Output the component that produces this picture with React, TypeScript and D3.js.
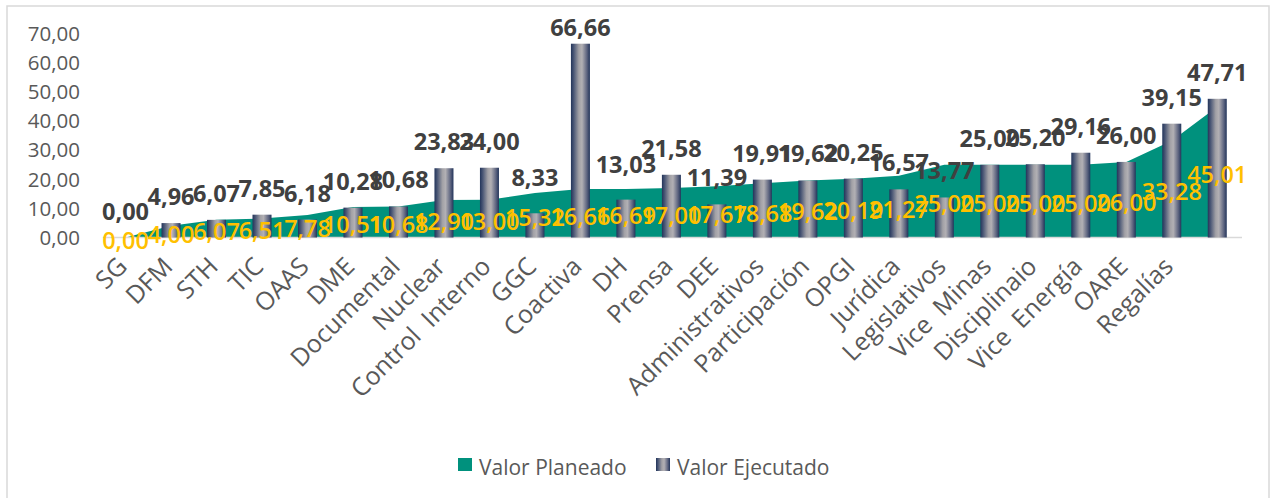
import React from "react";
import * as d3 from "d3";

const categories = ["SG", "DFM", "STH", "TIC", "OAAS", "DME", "Documental", "Nuclear", "Control  Interno", "GGC", "Coactiva", "DH", "Prensa", "DEE", "Administrativos", "Participación", "OPGI", "Jurídica", "Legislativos", "Vice  Minas", "Disciplinaio", "Vice  Energía", "OARE", "Regalías", ""];
const planeado = [0.0, 4.0, 6.07, 6.51, 7.78, 10.51, 10.68, 12.9, 13.0, 15.32, 16.66, 16.69, 17.0, 17.67, 18.68, 19.62, 20.19, 21.27, 25.0, 25.0, 25.0, 25.0, 26.0, 33.28, 45.01];
const ejecutado = [0.0, 4.96, 6.07, 7.85, 6.18, 10.28, 10.68, 23.83, 24.0, 8.33, 66.66, 13.03, 21.58, 11.39, 19.91, 19.62, 20.25, 16.57, 13.77, 25.0, 25.2, 29.16, 26.0, 39.15, 47.71];
const yTicks = [0, 10, 20, 30, 40, 50, 60, 70];
const seriesNames = ["Valor Planeado", "Valor Ejecutado"];

const fmt = (v: number) => v.toFixed(2).replace(".", ",");

// manual label nudges (layout only)
const labelLift: Record<number, number> = { 9: 27, 10: 8, 11: 27 };

export default function App() {
  const W = 1277, H = 498;
  const left = 102.8, right = 1240, top = 34, base = 237.5;
  const idx = categories.map((_, i) => i);
  const x = d3.scaleBand<number>().domain(idx).range([left, right]).padding(0);
  const cx = (i: number) => (x(i) as number) + x.bandwidth() / 2;
  const y = d3.scaleLinear().domain([0, 70]).range([base, top]);
  const barW = 19;

  const area = d3
    .area<number>()
    .x((_, i) => cx(i))
    .y0(base)
    .y1((d) => y(d));

  const numFont = "'Open Sans', sans-serif";
  const catFont = "'Open Sans', sans-serif";

  return (
    <svg width={W} height={H} style={{ position: "absolute", left: 0, top: 0, background: "#fff" }}>
      <defs>
        <linearGradient id="barGrad" x1="0" x2="1" y1="0" y2="0">
          <stop offset="0%" stopColor="#22345a" />
          <stop offset="14%" stopColor="#485574" />
          <stop offset="42%" stopColor="#a2a1a6" />
          <stop offset="58%" stopColor="#b2b0b4" />
          <stop offset="84%" stopColor="#5e6580" />
          <stop offset="100%" stopColor="#22345a" />
        </linearGradient>
      </defs>
      <rect x={7} y={6} width={1262} height={510} fill="#fff" stroke="#d9d9d9" strokeWidth={1.5} />

      {/* y axis labels */}
      {yTicks.map((t) => (
        <text key={t} x={80} y={y(t)} dy="0.35em" textAnchor="end" fontFamily={numFont} fontSize={20.5} fill="#595959">
          {fmt(t)}
        </text>
      ))}

      {/* area */}
      <path d={area(planeado) || ""} fill="#00917d" />

      {/* baseline */}
      <line x1={left} x2={right + 2} y1={base} y2={base} stroke="#d9d9d9" strokeWidth={1.5} />

      {/* bars */}
      {ejecutado.map((v, i) => (
        <rect key={i} x={cx(i) - barW / 2} y={y(v)} width={barW} height={base - y(v)} fill="url(#barGrad)" />
      ))}

      {/* planeado labels */}
      {planeado.map((v, i) => (
        <text key={i} x={cx(i)} y={y(v / 2) + 3} dy="0.35em" textAnchor="middle" fontFamily={numFont} fontWeight={600} fontSize={23.5} fill="#ffc000">
          {fmt(v)}
        </text>
      ))}

      {/* ejecutado labels */}
      {ejecutado.map((v, i) => (
        <text key={i} x={cx(i)} y={y(v) - (labelLift[i] ?? 18)} textAnchor="middle" fontFamily={numFont} fontWeight={700} fontSize={23.5} fill="#404040">
          {fmt(v)}
        </text>
      ))}

      {/* category labels */}
      {categories.map((c, i) => (
        <text
          key={i}
          transform={`translate(${cx(i) + 3},${268}) rotate(-45)`}
          textAnchor="end"
          fontFamily={catFont}
          fontSize={25}
          fill="#595959"
        >
          {c.replace(/  /g, " \u00a0")}
        </text>
      ))}

      {/* legend */}
      <rect x={458} y={458} width={14} height={13} fill="#00917d" />
      <text x={479} y={475} fontFamily={catFont} fontSize={21} fill="#595959">{seriesNames[0]}</text>
      <rect x={656} y={458} width={14} height={13} fill="url(#barGrad)" />
      <text x={677} y={475} fontFamily={catFont} fontSize={21} fill="#595959">{seriesNames[1]}</text>
    </svg>
  );
}
